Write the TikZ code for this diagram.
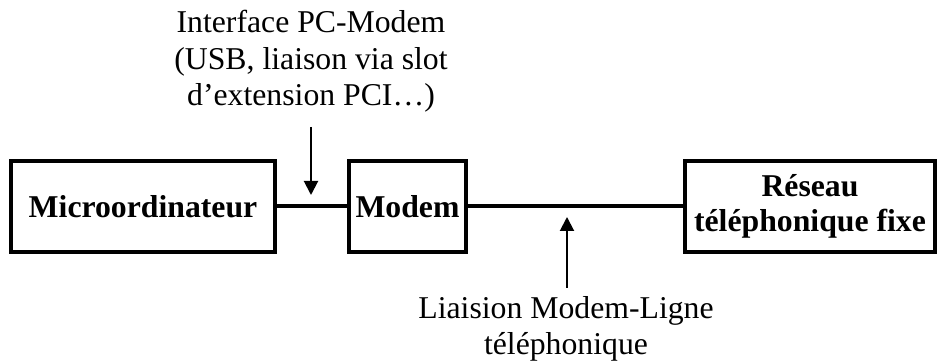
\documentclass[tikz,border=0pt]{standalone}
\usepackage{fontspec}
\setmainfont{Liberation Serif}
\usetikzlibrary{arrows.meta}
\begin{document}
\begin{tikzpicture}[x=0.75pt,y=-0.75pt,
  every node/.style={font=\fontsize{23.8pt}{27.5pt}\selectfont},
  block/.style={draw, line width=3pt, minimum height=91*0.75pt, inner sep=0pt,
    align=center, font=\fontsize{23.8pt}{26.5pt}\selectfont\bfseries},
  link/.style={line width=3pt},
  pointer/.style={line width=1.5pt, -{Triangle[width=10.5pt,length=10.5pt]}},
  caption/.style={align=center, inner sep=0pt}]
  \useasboundingbox (0,0) rectangle (939,363);

  % equipment blocks
  \node[block, minimum width=264*0.75pt] (micro) at (143,206.5) {Microordinateur};
  \node[block, minimum width=117*0.75pt] (modem) at (407.5,206.5) {Modem};
  \node[block, minimum width=250*0.75pt] (reseau) at (810,206.5) {Réseau\\téléphonique fixe};

  % cabling between blocks
  \draw[link] (micro.east) -- (modem.west);
  \draw[link] (modem.east) -- (reseau.west);

  % PC–modem interface callout
  \node[caption, anchor=north] (iface) at (311,10) {Interface PC-Modem\\(USB, liaison via slot\\d’extension PCI…)};
  \coordinate (ifaceTail) at (311,127);
  \coordinate (ifaceTip) at (311,195);
  \draw[pointer] (ifaceTail) -- (ifaceTip);

  % modem–line callout
  \node[caption, anchor=north] (ligne) at (566,296) {Liaision Modem-Ligne\\téléphonique};
  \coordinate (ligneTail) at (567,288);
  \coordinate (ligneTip) at (567,217);
  \draw[pointer] (ligneTail) -- (ligneTip);
\end{tikzpicture}
\end{document}
